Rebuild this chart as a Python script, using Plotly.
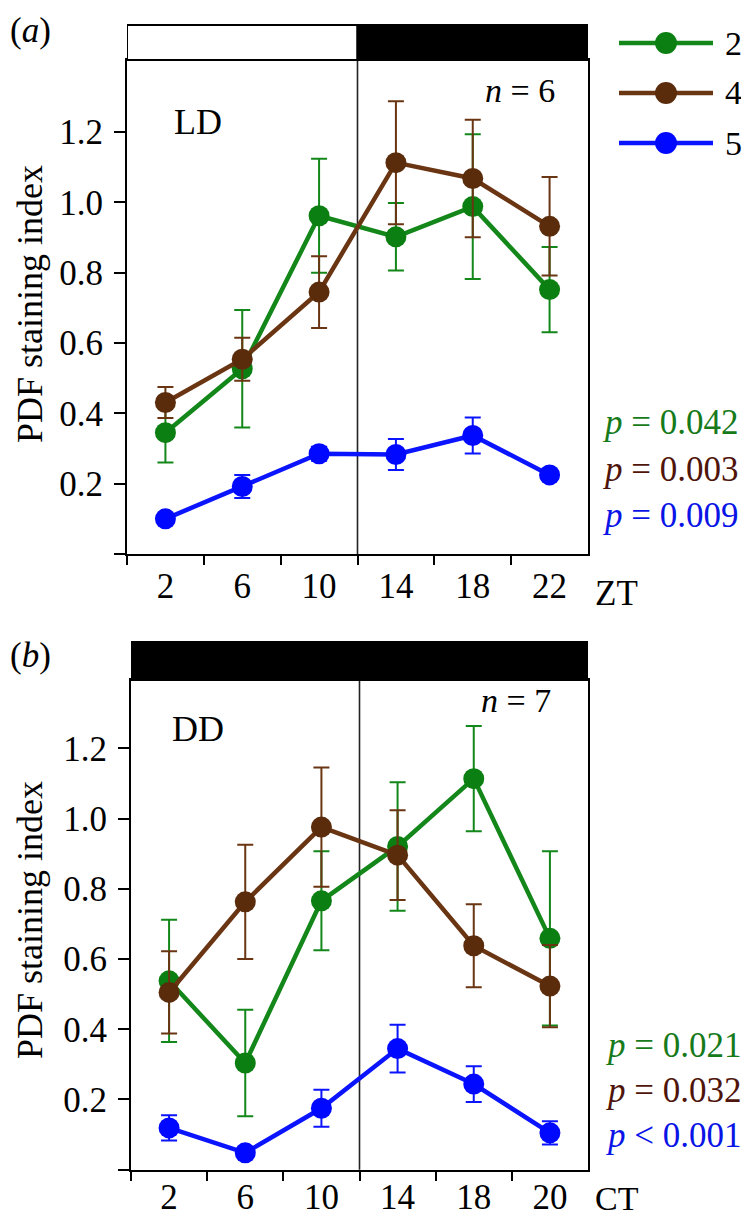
import plotly.graph_objects as go

W, H = 749, 1216
FONT = "Liberation Serif, Times New Roman, Times, serif"

# ---------------- data ----------------
series_names = ["2", "4", "5"]
line_colors = ["#13871a", "#6a3512", "#0b14ff"]
marker_colors = ["#0c7f12", "#5a2c0c", "#0008ff"]
text_colors = ["#167a1a", "#4f140a", "#0a14e6"]

zt = [2, 6, 10, 14, 18, 22]
zt_labels = ["2", "6", "10", "14", "18", "22"]
ct = [2, 6, 10, 14, 18, 22]
ct_labels = ["2", "6", "10", "14", "18", "20"]

# Panel (a) LD
ld_mean = {
    "2": [0.345, 0.527, 0.962, 0.902, 0.988, 0.752],
    "4": [0.431, 0.554, 0.745, 1.113, 1.068, 0.932],
    "5": [0.100, 0.192, 0.285, 0.283, 0.337, 0.225],
}
ld_se = {
    "2": [0.085, 0.167, 0.162, 0.096, 0.206, 0.121],
    "4": [0.044, 0.061, 0.102, 0.175, 0.167, 0.140],
    "5": [0.010, 0.033, 0.020, 0.044, 0.051, 0.010],
}
ld_p = ["0.042", "0.003", "0.009"]
ld_p_ops = ["=", "=", "="]

# Panel (b) DD
dd_mean = {
    "2": [0.538, 0.304, 0.766, 0.921, 1.114, 0.659],
    "4": [0.505, 0.763, 0.976, 0.896, 0.638, 0.523],
    "5": [0.119, 0.048, 0.175, 0.345, 0.244, 0.105],
}
dd_se = {
    "2": [0.174, 0.152, 0.141, 0.183, 0.150, 0.248],
    "4": [0.117, 0.163, 0.170, 0.128, 0.118, 0.117],
    "5": [0.036, 0.008, 0.053, 0.068, 0.051, 0.033],
}
dd_p = ["0.021", "0.032", "0.001"]
dd_p_ops = ["=", "=", "<"]

yticks = [0, 0.2, 0.4, 0.6, 0.8, 1.0, 1.2]
yticklabels = ["", "0.2", "0.4", "0.6", "0.8", "1.0", "1.2"]
minor_ticks = [0, 4, 8, 12, 16, 20]

# ---------------- helpers ----------------
def px(x):
    return x / W

def py(y):
    return 1 - y / H

fig = go.Figure()

def add_panel(xs, means, ses, xa, ya):
    for i, name in enumerate(series_names):
        fig.add_trace(go.Scatter(
            x=xs, y=means[name], mode="lines+markers", name=name,
            xaxis=xa, yaxis=ya, showlegend=False,
            line=dict(color=line_colors[i], width=4.5),
            marker=dict(color=marker_colors[i], size=21, opacity=1),
            error_y=dict(type="data", array=ses[name], visible=True,
                         color=line_colors[i], thickness=2, width=8),
        ))

add_panel(zt, ld_mean, ld_se, "x", "y")
add_panel(ct, dd_mean, dd_se, "x2", "y2")

# legend keys (own small axes)
for i, name in enumerate(series_names):
    fig.add_trace(go.Scatter(
        x=[0, 1], y=[i, i], mode="lines",
        xaxis="x3", yaxis="y3", showlegend=False, hoverinfo="skip",
        line=dict(color=line_colors[i], width=4.5),
    ))
    fig.add_trace(go.Scatter(
        x=[0.5], y=[i], mode="markers",
        xaxis="x3", yaxis="y3", showlegend=False, hoverinfo="skip",
        marker=dict(color=marker_colors[i], size=22, opacity=1),
    ))

tickfont = dict(family=FONT, size=35, color="black")

def xaxis_cfg(domain, labels, anchor, tickvals, standoff):
    return dict(
        domain=domain, range=[0, 24], anchor=anchor,
        tickmode="array", tickvals=tickvals, ticktext=labels, ticks="",
        showline=True, linecolor="black", linewidth=2, mirror=True,
        showgrid=False, zeroline=False, tickfont=tickfont,
        ticklabelstandoff=standoff,
        minor=dict(tickmode="array", tickvals=minor_ticks, ticks="outside",
                   ticklen=9, tickwidth=2, tickcolor="black", showgrid=False),
    )

def yaxis_cfg(domain, rng, anchor):
    return dict(
        domain=domain, range=rng, anchor=anchor,
        tickmode="array", tickvals=yticks, ticktext=yticklabels,
        ticks="outside", ticklen=11, tickwidth=2, tickcolor="black",
        showline=True, linecolor="black", linewidth=2, mirror=True,
        showgrid=False, zeroline=False, tickfont=tickfont,
        ticklabelstandoff=4,
    )

fig.update_layout(
    width=W, height=H,
    margin=dict(l=0, r=0, t=0, b=0),
    paper_bgcolor="white", plot_bgcolor="white",
    font=dict(family=FONT, size=34, color="black"),
    xaxis=xaxis_cfg([px(119), px(580)], zt_labels, "y", zt, 0),
    yaxis=yaxis_cfg([py(546), py(52)], [0, 1.405], "x"),
    xaxis2=xaxis_cfg([px(123), px(580)], ct_labels, "y2", ct, -5),
    yaxis2=yaxis_cfg([py(1161.7), py(672)], [0, 1.395], "x2"),
    xaxis3=dict(domain=[px(611), px(705)], range=[0, 1], anchor="y3",
                visible=False, fixedrange=True),
    yaxis3=dict(domain=[py(160), py(10)], range=[2.5, -0.5], anchor="x3",
                visible=False, fixedrange=True),
    showlegend=False,
)

shapes = []
# light/dark bar (a)
shapes.append(dict(type="rect", xref="x", yref="paper", x0=0, x1=12,
                   y0=py(52), y1=py(17), fillcolor="white",
                   line=dict(color="black", width=2), layer="above"))
shapes.append(dict(type="rect", xref="x", yref="paper", x0=12, x1=24,
                   y0=py(52), y1=py(17), fillcolor="black",
                   line=dict(color="black", width=2), layer="above"))
# dark bar (b)
shapes.append(dict(type="rect", xref="x2", yref="paper", x0=0, x1=24,
                   y0=py(672), y1=py(634), fillcolor="black",
                   line=dict(color="black", width=2), layer="above"))
# divider lines at 12
shapes.append(dict(type="line", xref="x", yref="y domain", x0=12, x1=12,
                   y0=0, y1=1, line=dict(color="#222222", width=1.6), layer="below"))
shapes.append(dict(type="line", xref="x2", yref="y2 domain", x0=12, x1=12,
                   y0=0, y1=1, line=dict(color="#222222", width=1.6), layer="below"))
fig.update_layout(shapes=shapes)

ann = []
def text(x, y, s, size=35, color="black", xanchor="left", angle=0):
    ann.append(dict(x=px(x), y=py(y), xref="paper", yref="paper", text=s,
                    showarrow=False, xanchor=xanchor, yanchor="middle",
                    textangle=angle,
                    font=dict(family=FONT, size=size, color=color)))

text(0, 23, "(<i>a</i>)")
text(0, 647, "(<i>b</i>)")
text(164, 114, "LD", size=36)
text(162, 721, "DD", size=36)
text(549, 82, "<i>n</i> = 6", xanchor="right", size=34)
text(545, 692, "<i>n</i> = 7", xanchor="right", size=34)
text(585, 585, "ZT", size=35)
text(585, 1190, "CT", size=34)
text(22, 296, "PDF staining index", size=36, angle=-90, xanchor="center")
text(22, 912, "PDF staining index", size=36, angle=-90, xanchor="center")
for i, name in enumerate(series_names):
    text(715, 35 + 50 * i, name, size=34)
for i in range(3):
    text(592, 415 + 46 * i, f"<i>p</i> {ld_p_ops[i]} {ld_p[i]}", color=text_colors[i], size=35)
    text(595, 1037 + 45 * i, f"<i>p</i> {dd_p_ops[i]} {dd_p[i]}", color=text_colors[i], size=35)
fig.update_layout(annotations=ann)

fig.write_html("out.html")
